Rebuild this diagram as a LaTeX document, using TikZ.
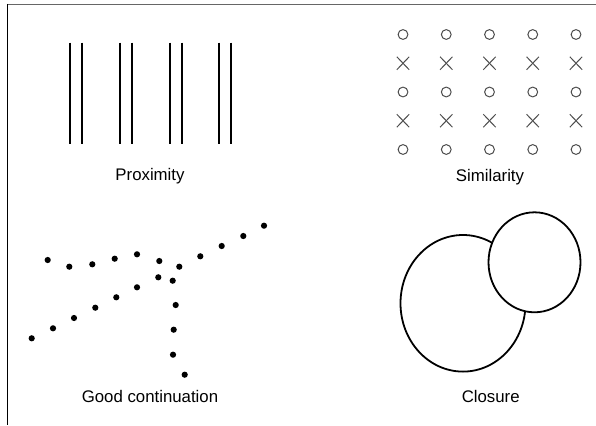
\documentclass[tikz,border=0pt]{standalone}
\usepackage{fontspec}
\setmainfont{Liberation Sans}
\begin{document}
\begin{tikzpicture}[x=1pt,y=-1pt,
  label/.style={anchor=base,inner sep=0pt,font=\fontsize{16.8}{20}\selectfont},
  bar/.style={line width=2pt,black},
  sym/.style={line width=1pt,black!70},
  dot/.style={fill=black,draw=none},
  ring/.style={line width=1.8pt,black}]
\useasboundingbox (0,0) rectangle (596,425);
% frame
\draw[line width=1.6pt,black!60] (7,4.5) -- (596,4.5);
\draw[line width=1.4pt,black] (7.7,4) -- (7.7,425);
% Proximity
\foreach \x in {70.3,82.3,119.7,132,169.7,181.7,219,231.3}
  \draw[bar] (\x,42.7) -- (\x,144);
\node[label] (prox) at (150,180) {Proximity};
% Similarity
\foreach \i in {0,...,4}{
  \pgfmathsetmacro{\cx}{403+43.25*\i}
  \foreach \r in {0,2,4}{
    \pgfmathsetmacro{\cy}{34.5+28.75*\r}
    \draw[sym] (\cx,\cy) circle (4.9);
  }
  \foreach \r in {1,3}{
    \pgfmathsetmacro{\cy}{34.5+28.75*\r}
    \draw[sym] (\cx-6.2,\cy-6.5) -- (\cx+6.2,\cy+6.5);
    \draw[sym] (\cx-6.2,\cy+6.5) -- (\cx+6.2,\cy-6.5);
  }
}
\node[label] (sim) at (490,181) {Similarity};
% Good continuation
\foreach \p in {(47.7,260),(69.3,266.7),(92.3,264.3),(114.7,258.7),(137,254.3),(159.3,261),(179.3,266.7),(200.3,256.3),(221.7,246),(243.3,236),(264,225.7),
  (31.7,338.3),(53,328.3),(74,318),(95.3,307.7),(116.3,297.3),(137,287.3),(158.3,277.3),(172.7,280.7),
  (175.7,305),(173.7,329.7),(173,354.7),(184.7,374.7)}
  \fill[dot] \p circle (3.1);
\node[label] (good) at (150,402.3) {Good continuation};
% Closure
\draw[ring] (463,303.3) ellipse [x radius=62.5, y radius=68.3];
\draw[ring,fill=white] (534.5,262.3) ellipse [x radius=46, y radius=50];
\node[label] (clos) at (490.7,402.7) {Closure};
\end{tikzpicture}
\end{document}
